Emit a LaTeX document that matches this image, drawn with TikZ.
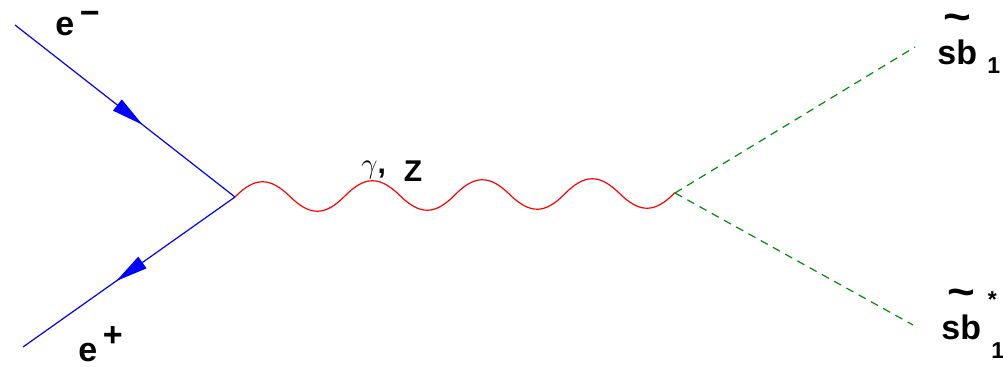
\documentclass[tikz,border=0pt]{standalone}
\usepackage{fontspec}
\setsansfont{Liberation Sans}
\usetikzlibrary{arrows.meta,decorations,decorations.markings}
\definecolor{fermblue}{RGB}{0,0,255}
\definecolor{bosonred}{RGB}{255,0,0}
\definecolor{scalargreen}{RGB}{0,140,0}
\newcommand\lblfont{\sffamily\bfseries\fontsize{17}{17}\selectfont}
\newcommand\idxfont{\sffamily\bfseries\fontsize{11.5}{11.5}\selectfont}
\newcommand\sbtilde{\rlap{\hspace{0.18em}\raisebox{0.98em}{\scalebox{1.4}[1.25]{\char`\~}}}sb}
% half-sine waves, so the wave runs to the very end of the line
\pgfdeclaredecoration{photonwave}{initial}{
  \state{initial}[width=0.5\pgfdecorationsegmentlength, next state=down]{
    \pgfpathmoveto{\pgfpointorigin}
    \pgfpathcurveto{\pgfpoint{0.182\pgfdecorationsegmentlength}{1.333\pgfdecorationsegmentamplitude}}
      {\pgfpoint{0.318\pgfdecorationsegmentlength}{1.333\pgfdecorationsegmentamplitude}}
      {\pgfpoint{0.5\pgfdecorationsegmentlength}{0pt}}
  }
  \state{up}[width=0.5\pgfdecorationsegmentlength, next state=down]{
    \pgfpathcurveto{\pgfpoint{0.182\pgfdecorationsegmentlength}{1.333\pgfdecorationsegmentamplitude}}
      {\pgfpoint{0.318\pgfdecorationsegmentlength}{1.333\pgfdecorationsegmentamplitude}}
      {\pgfpoint{0.5\pgfdecorationsegmentlength}{0pt}}
  }
  \state{down}[width=0.5\pgfdecorationsegmentlength, next state=up]{
    \pgfpathcurveto{\pgfpoint{0.182\pgfdecorationsegmentlength}{-1.333\pgfdecorationsegmentamplitude}}
      {\pgfpoint{0.318\pgfdecorationsegmentlength}{-1.333\pgfdecorationsegmentamplitude}}
      {\pgfpoint{0.5\pgfdecorationsegmentlength}{0pt}}
  }
  \state{final}{\pgfpathlineto{\pgfpointdecoratedpathlast}}
}
\tikzset{
  fermion/.style={draw=fermblue, line width=0.6pt, postaction={decorate},
    decoration={markings, mark=at position #1 with {\arrow{Triangle[length=16pt,width=7pt]}}}},
  photon/.style={draw=bosonred, line width=0.6pt, decorate,
    decoration={photonwave, segment length=54.95pt, amplitude=7.5pt}},
  scalar/.style={draw=scalargreen, line width=0.6pt, dash pattern=on 4pt off 3pt},
  partlabel/.style={anchor=base west, inner sep=0pt, font=\lblfont}
}
\begin{document}
\begin{tikzpicture}[x=0.5pt,y=-0.5pt]
\useasboundingbox (0,0) rectangle (1003,367);
% vertices and external legs
\coordinate (v1) at (235,197);
\coordinate (v2) at (675,193);
\coordinate (em) at (15,25);
\coordinate (ep) at (23,347);
\coordinate (sq) at (915,47);
\coordinate (sqbar) at (913,325);
% lines
\draw[fermion=0.58] (em) -- (v1);
\draw[fermion=0.56] (v1) -- (ep);
\draw[photon] (v1) -- (v2);
\draw[scalar] (v2) -- (sq);
\draw[scalar] (v2) -- (sqbar);
% labels
\node[partlabel] (lem) at (55,36) {e\raisebox{0.33em}{\,−}};
\node[partlabel] (lep) at (78,362) {e\raisebox{0.45em}{\,+}};
\node[partlabel, font=\sffamily\bfseries\fontsize{15}{15}\selectfont] (lgz) at (361,174) {$\gamma$,\hspace{0.6em}\raisebox{-4pt}{Z}};
\node[partlabel] (lsq) at (937,65) {\sbtilde\hspace{0.3em}\raisebox{-0.25em}{\idxfont 1}};
\node[partlabel] (lsqbar) at (941,340) {\sbtilde\hspace{0.2em}\rlap{\raisebox{0.95em}{\idxfont *}}\hspace{0.1em}\raisebox{-0.55em}{\idxfont 1}};
\end{tikzpicture}
\end{document}
